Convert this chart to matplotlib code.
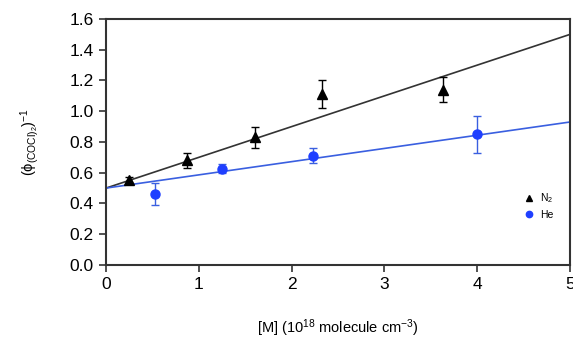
import matplotlib
matplotlib.use("Agg")
import matplotlib.pyplot as plt
import numpy as np

plt.rcParams['font.family'] = ['Liberation Sans', 'DejaVu Sans']
plt.rcParams['mathtext.fontset'] = 'custom'
plt.rcParams['mathtext.rm'] = 'Liberation Sans'
plt.rcParams['mathtext.it'] = 'Liberation Sans'

# data
n2_x = [0.25, 0.87, 1.60, 2.33, 3.63]
n2_y = [0.55, 0.68, 0.83, 1.11, 1.14]
n2_err = [0.02, 0.05, 0.07, 0.09, 0.08]

he_x = [0.53, 1.25, 2.23, 4.00]
he_y = [0.46, 0.625, 0.71, 0.85]
he_err = [0.07, 0.03, 0.05, 0.12]

# linear fits (intercept, slope)
n2_fit = (0.50, 0.200)
he_fit = (0.50, 0.086)

fig = plt.figure(figsize=(5.73, 3.45), dpi=100)
ax = fig.add_axes([0.185, 0.232, 0.81, 0.713])

xx = np.array([0, 5])
ax.plot(xx, n2_fit[0] + n2_fit[1] * xx, color='#333333', lw=1.2)
ax.plot(xx, he_fit[0] + he_fit[1] * xx, color='#3a5fe0', lw=1.2)

ax.errorbar(n2_x, n2_y, yerr=n2_err, fmt='^', color='black', ms=6.5,
            capsize=3, elinewidth=1, label='N$_2$')
ax.errorbar(he_x, he_y, yerr=he_err, fmt='o', color='#1f3fff', ms=6.5,
            ecolor='#3a5fe0', capsize=3, elinewidth=1, label='He')

ax.set_xlim(0, 5)
ax.set_ylim(0, 1.6)
ax.set_xticks(range(6))
ax.set_yticks(np.arange(0, 1.61, 0.2))
ax.set_yticklabels([f'{v:.1f}' for v in np.arange(0, 1.61, 0.2)])
ax.tick_params(labelsize=12.5, direction='out', length=5, width=1.2,
               color='#333333', pad=4)
for s in ax.spines.values():
    s.set_linewidth(1.5)
    s.set_color('#333333')

ax.set_xlabel('[M] (10$^{18}$ molecule cm$^{-3}$)', fontsize=10.5, labelpad=18)
ax.set_ylabel(r'$(\phi_{(\mathrm{COCl})_2})^{-1}$', fontsize=10.5, labelpad=20)

handles, labels = ax.get_legend_handles_labels()
hs = [h[0] for h in handles]
ax.legend(hs, labels, loc='lower right', bbox_to_anchor=(0.985, 0.145),
          frameon=False, fontsize=7.5, markerscale=0.7, handlelength=1,
          handletextpad=0.6, labelspacing=0.45)

fig.savefig('out.png', dpi=100)
